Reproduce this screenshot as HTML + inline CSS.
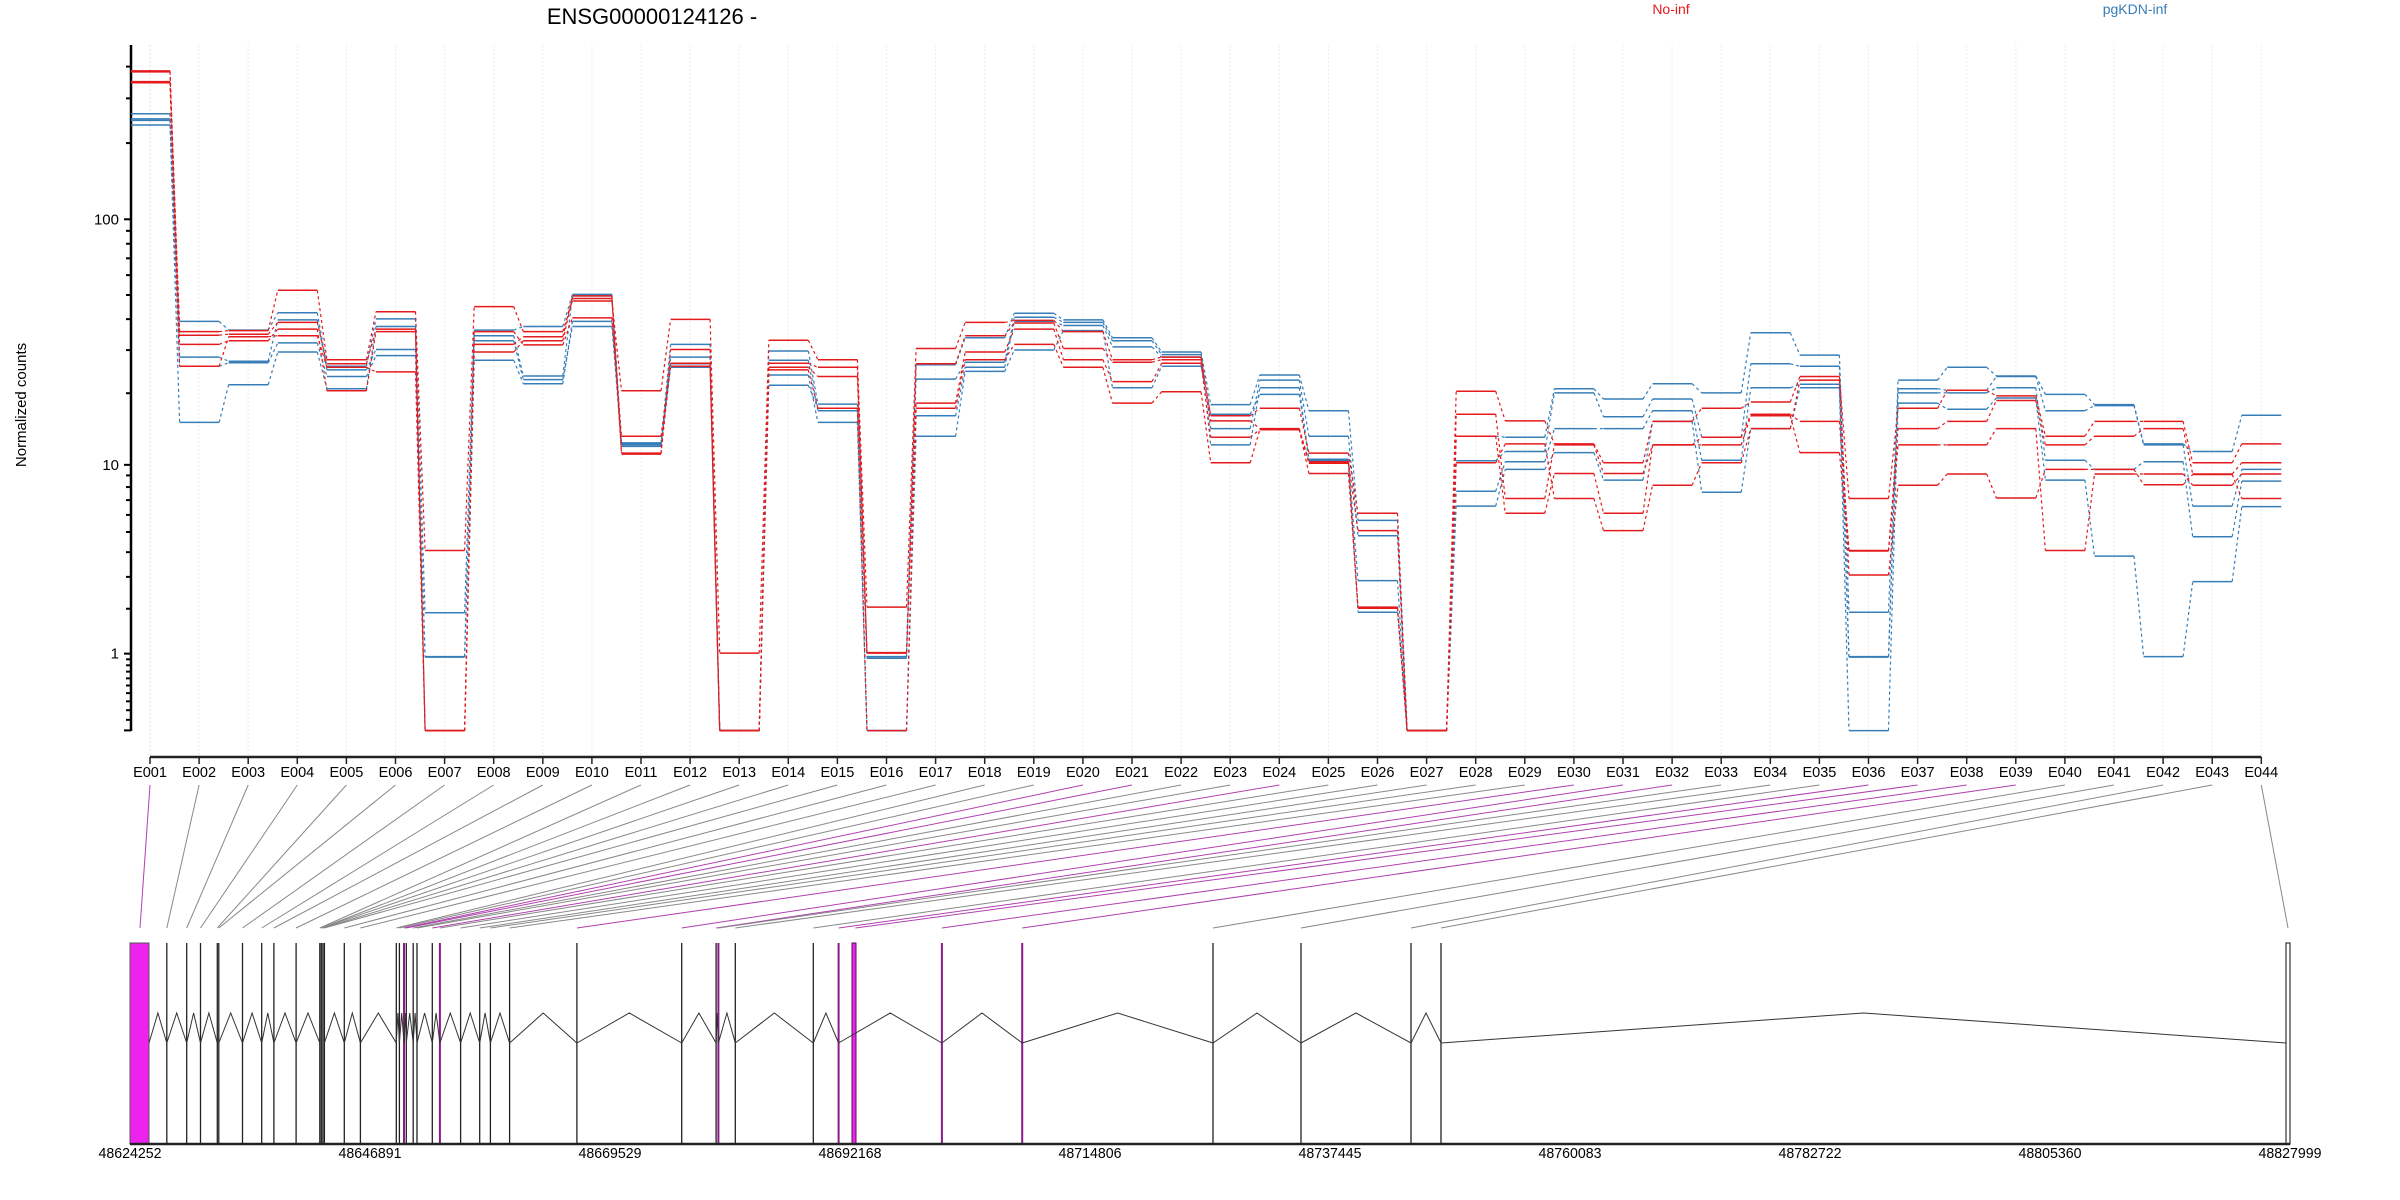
<!DOCTYPE html>
<html><head><meta charset="utf-8"><style>
html,body{margin:0;padding:0;background:#fff;}
svg{display:block;font-family:"Liberation Sans",sans-serif;}
</style></head><body>
<svg id="s" width="2400" height="1200" xmlns="http://www.w3.org/2000/svg"></svg>
<script>
var s=document.getElementById('s'),o='';
function Y(v){return 730.4-255*Math.log10(v+1);}
function ex(i){return 150+i*49.1;}
o+='<text x="652" y="24" font-size="22" text-anchor="middle">ENSG00000124126 -</text>';
o+='<text x="1671" y="14" font-size="14" fill="#e41a1c" text-anchor="middle">No-inf</text>';
o+='<text x="2135" y="14" font-size="14" fill="#377eb8" text-anchor="middle">pgKDN-inf</text>';
o+='<text transform="translate(26,405) rotate(-90)" font-size="15" text-anchor="middle">Normalized counts</text>';
for(var i=0;i<44;i++){o+='<line x1="'+ex(i)+'" y1="45" x2="'+ex(i)+'" y2="757" stroke="'+(i==0?'#f0d0f0':'#ececec')+'" stroke-width="1" stroke-dasharray="2,2"/>';}
o+='<line x1="131" y1="45" x2="131" y2="731" stroke="#000" stroke-width="2.5"/>';
var ticks=[0,0.1,0.2,0.3,0.4,0.5,0.6,0.7,0.8,0.9,1,2,3,4,5,6,7,8,9,10,20,30,40,50,60,70,80,90,100,200,300,400];
ticks.forEach(function(t){var y=Y(t),maj=(t==1||t==10||t==100||t==0);o+='<line x1="'+(maj?124:126)+'" y1="'+y+'" x2="131" y2="'+y+'" stroke="#000" stroke-width="2"/>';});
[[1,'1'],[10,'10'],[100,'100']].forEach(function(a){o+='<text x="119" y="'+(Y(a[0])+5)+'" font-size="15" text-anchor="end">'+a[1]+'</text>';});
o+='<line x1="150" y1="757" x2="'+ex(43)+'" y2="757" stroke="#222" stroke-width="2.5"/>';
for(var i=0;i<44;i++){var x=ex(i);o+='<line x1="'+x+'" y1="757" x2="'+x+'" y2="764" stroke="#222" stroke-width="1.5"/>';
o+='<text x="'+x+'" y="777" font-size="14.5" text-anchor="middle">E'+('00'+(i+1)).slice(-3)+'</text>';}
var R=[[139,141,160,162],[650,657,675,718],[648,655,668,660],[569,632,645,658],[705,713,766,720],[611,645,650,729],[1079,1432,1432,1432],[601,675,690,650],[650,660,668,676],[590,580,585,623],[766,888,890,855],[626,685,712,718],[1280,1432,1432,1432],
[667,712,720,725],[705,720,738,800],[1190,1279,1280,1432],[683,713,790,800],[632,658,690,705],[628,633,645,675],[650,683,705,720],[705,710,748,790],[700,705,712,768],[815,825,857,907],[800,840,842,842],[888,905,928,908],[1006,1040,1190,1192],[1432,1432,1432,1432],[767,812,855,907],
[825,977,1006,870],[870,872,928,977],[907,928,1006,1040],[826,872,872,951],[800,857,872,907],[788,812,815,840],[738,826,887,745],[977,1079,1080,1127],[800,840,872,951],[765,826,872,929],[776,785,840,976],[855,872,1079,920],[826,855,929,920],[826,840,929,950],[907,929,951,930],[870,907,929,977]];
var B=[[223,233,236,245],[630,700,718,828],[647,708,711,754],[613,627,672,690],[718,725,738,762],[625,685,697,640],[1201,1287,1288,1432],[647,658,668,706],[640,737,744,752],[577,580,640,630],[868,872,870,875],[675,700,713,720],[1432,1432,1432,1432],
[688,706,735,755],[792,805,828,800],[1287,1290,1432,1432],[715,743,815,855],[662,710,720,728],[614,622,630,686],[627,632,638,648],[662,668,680,760],[690,695,700,718],[793,840,872,812],[735,745,760,773],[805,855,900,903],[1020,1050,1138,1200],[1432,1432,1432,1432],[855,903,963,992],
[857,885,905,920],[762,770,840,887],[782,817,840,941],[752,782,805,826],[770,857,902,965],[652,713,760,840],[696,718,753,760],[1200,1287,1288,1432],[745,762,770,790],[720,765,770,802],[737,738,760,780],[773,805,902,941],[793,795,920,1090],[870,872,905,1287],[885,992,1052,1140],[814,920,943,993]];
function series(D,col){for(var k=0;k<4;k++){var solid='',dash='';for(var i=0;i<44;i++){var y=(D[i][k]/1.96).toFixed(1),x0=(i==0?131:ex(i)-19.5),x1=ex(i)+20;
solid+='M'+x0+' '+y+'H'+x1;if(i<43){var y2=(D[i+1][k]/1.96).toFixed(1);dash+='M'+x1+' '+y+'L'+(ex(i+1)-19.5)+' '+y2;}}
o+='<path d="'+dash+'" fill="none" stroke="'+col+'" stroke-width="1.2" stroke-dasharray="3,3"/>';
o+='<path d="'+solid+'" fill="none" stroke="'+col+'" stroke-width="1.5"/>';}}
series(B,'#377eb8');series(R,'#e41a1c');
var gz=[183,218,244,262,284,286,317,342,358,387,418,420,420,422,424,450,471,518,522,528,531,540,545,565,575,602,627,641,666,754,891,936,939,961,1063,1096,1118,1231,1336];
var g=gz.map(function(v){return v/1.307;}).concat([1213,1301,1411,1441,2288]);
var magF={0:1,19:1,23:1,29:1,30:1,31:1,35:1,36:1,37:1,38:1,20:1};
for(var i=0;i<44;i++){o+='<line x1="'+ex(i)+'" y1="785" x2="'+g[i].toFixed(1)+'" y2="928" stroke="'+(magF[i]?'#b040b0':'#888')+'" stroke-width="1"/>';}
var magG=[528,575,939,1096,1231,1336];
var pos=[218,244,262,284,286,317,342,358,387,418,420,422,424,450,471,518,522,528,531,540,545,565,575,602,627,641,666,754,891,936,939,961,1063,1096,1231,1336].map(function(v){return{x:v/1.307,m:magG.indexOf(v)>=0};});
pos.push({x:1213},{x:1301},{x:1411},{x:1441});
pos.forEach(function(p){o+='<line x1="'+p.x.toFixed(1)+'" y1="943" x2="'+p.x.toFixed(1)+'" y2="1144" stroke="'+(p.m?'#8b1a8b':'#222')+'" stroke-width="'+(p.m?2:1.3)+'"/>';});
o+='<rect x="130" y="943" width="19" height="201" fill="#ee22ee" stroke="#555" stroke-width="1"/>';
o+='<rect x="852" y="943" width="4" height="201" fill="#ee22ee" stroke="#551155" stroke-width="1"/>';
o+='<rect x="2286" y="943" width="4" height="201" fill="#fff" stroke="#333" stroke-width="1.2"/>';
var bx=[149].concat(pos.map(function(p){return p.x;}).filter(function(v,i,a){return a.indexOf(v)==i;})).concat([2286]);
bx.sort(function(a,b){return a-b;});
var ip='';for(var i=0;i<bx.length-1;i++){if(bx[i+1]-bx[i]<2)continue;ip+='M'+bx[i].toFixed(1)+' 1043L'+((bx[i]+bx[i+1])/2).toFixed(1)+' 1013L'+bx[i+1].toFixed(1)+' 1043';}
o+='<path d="'+ip+'" fill="none" stroke="#333" stroke-width="1"/>';
o+='<line x1="130" y1="1144" x2="2290" y2="1144" stroke="#222" stroke-width="2.5"/>';
var lab=['48624252','48646891','48669529','48692168','48714806','48737445','48760083','48782722','48805360','48827999'];
lab.forEach(function(t,i){o+='<text x="'+(130+i*240)+'" y="1158" font-size="15" text-anchor="middle" textLength="63" lengthAdjust="spacingAndGlyphs">'+t+'</text>';});
s.innerHTML=o;
</script>
</body></html>
